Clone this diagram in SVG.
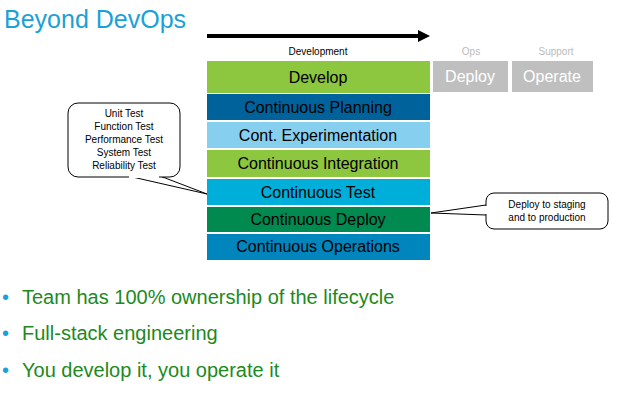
<svg xmlns="http://www.w3.org/2000/svg" width="639" height="409" viewBox="0 0 639 409">
<style>
text{font-family:"Liberation Sans",Arial,sans-serif}
.bar{font-size:16px;fill:#000;text-anchor:middle}
.gray{font-size:16px;fill:#fff;text-anchor:middle}
.small{font-size:10px;fill:#000;text-anchor:middle}
.bul{font-size:20px;fill:#1c8a1c}
.dot{font-size:20px;fill:#1ba1d8}
.co{fill:#fff;stroke:#000;stroke-width:1}
</style>
<rect width="639" height="409" fill="#fff"/>
<text x="4" y="28" font-size="25" fill="#1ba1d8">Beyond DevOps</text>
<g id="connectors">
<line x1="207" y1="36" x2="420" y2="36" stroke="#000" stroke-width="4"/>
<polygon points="418,30 430,36 418,42" fill="#000"/>
<path d="M128,176 L207,194 L160,176" fill="#fff" stroke="#000"/>
<path d="M486,205 L431,213 L486,215" fill="#fff" stroke="#000"/>
</g>
<text x="318" y="55" class="small" font-size="11">Development</text>
<text x="471" y="55" class="small" style="fill:#bbb" font-size="11">Ops</text>
<text x="556" y="55" class="small" style="fill:#bbb" font-size="11">Support</text>
<g id="develop"><rect x="207" y="61" width="223" height="32" fill="#8dc63f"/><text x="318" y="83" class="bar" font-size="17">Develop</text></g>
<g id="planning"><rect x="207" y="94" width="223" height="26" fill="#00629b"/><text x="318" y="113" class="bar">Continuous Planning</text></g>
<g id="experimentation"><rect x="207" y="122" width="223" height="26" fill="#87cfef"/><text x="318" y="141" class="bar">Cont. Experimentation</text></g>
<g id="integration"><rect x="207" y="150" width="223" height="27" fill="#8dc63f"/><text x="318" y="169" class="bar">Continuous Integration</text></g>
<g id="test"><rect x="207" y="179" width="223" height="26" fill="#00afd9"/><text x="318" y="198" class="bar">Continuous Test</text></g>
<g id="deploy"><rect x="207" y="207" width="223" height="25" fill="#008a4f"/><text x="318" y="225" class="bar">Continuous Deploy</text></g>
<g id="operations"><rect x="207" y="234" width="223" height="26" fill="#0085bd"/><text x="318" y="252" class="bar">Continuous Operations</text></g>
<g id="ops-deploy"><rect x="433" y="61" width="75" height="31" fill="#bfbfbf"/><text x="470" y="82" class="gray" font-size="17">Deploy</text></g>
<g id="ops-operate"><rect x="512" y="61" width="81" height="31" fill="#bfbfbf"/><text x="552" y="82" class="gray" font-size="17">Operate</text></g>
<g id="callout-test">
<rect x="68" y="103" width="112" height="74" rx="10" class="co"/>
<rect x="129" y="174" width="30" height="4" fill="#fff"/>
<text x="124" y="117" class="small">Unit Test</text>
<text x="124" y="130" class="small">Function Test</text>
<text x="124" y="143" class="small">Performance Test</text>
<text x="124" y="156" class="small">System Test</text>
<text x="124" y="169" class="small">Reliability Test</text>
</g>
<g id="callout-deploy">
<rect x="486" y="193" width="122" height="36" rx="8" class="co"/>
<rect x="484" y="206" width="4" height="8" fill="#fff"/>
<text x="547" y="208" class="small">Deploy to staging</text>
<text x="547" y="221" class="small">and to production</text>
</g>
<text x="2" y="304" class="dot">•</text><text x="22" y="304" class="bul">Team has 100% ownership of the lifecycle</text>
<text x="2" y="340" class="dot">•</text><text x="22" y="340" class="bul">Full-stack engineering</text>
<text x="2" y="377" class="dot">•</text><text x="22" y="377" class="bul">You develop it, you operate it</text>
</svg>
